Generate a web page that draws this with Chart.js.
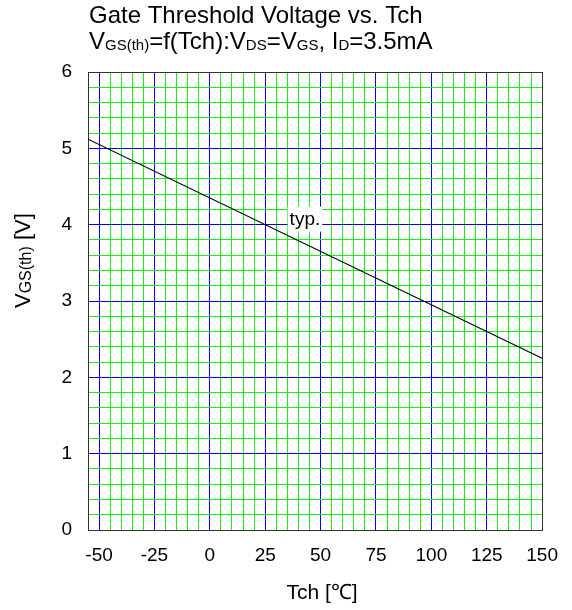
<!DOCTYPE html>
<html>
<head>
<meta charset="utf-8">
<script src="https://cdn.jsdelivr.net/npm/chart.js@4/dist/chart.umd.min.js"></script>
<style>
  body { margin: 0; background: #fff; }
</style>
</head>
<body>
<canvas id="vthChart" width="572" height="610"></canvas>
<script>
'use strict';

// Curve data
const tchValues = [-55, 150];
const vthValues = [5.12, 2.25];

// Tick labels
const xTicks = [-50, -25, 0, 25, 50, 75, 100, 125, 150];
const yTicks = [0, 1, 2, 3, 4, 5, 6];

// Curve note
const noteText = 'typ.';
const noteAt = [36, 4];

// Title pieces: [text, isSubscript]
const titleLine1 = [['Gate Threshold Voltage vs. Tch', false]];
const titleLine2 = [
  ['V', false], ['GS(th)', true], ['=f(Tch):V', false], ['DS', true],
  ['=V', false], ['GS', true], [', I', false], ['D', true], ['=3.5mA', false],
];
const yTitle = [['V', false], ['GS(th)', true], [' [V]', false]];
const xTitle = 'Tch [℃]';

const FONT = '"Liberation Sans", Arial, sans-serif';
const GREEN = '#11f511';
const BLUE = '#0000ff';
const FRAME = '#333333';

Chart.defaults.font.family = FONT;
Chart.defaults.color = '#000';

function drawRich(ctx, parts, x, y, big, small) {
  for (const [txt, sub] of parts) {
    ctx.font = (sub ? small : big) + 'px ' + FONT;
    ctx.fillText(txt, x, y + (sub ? 1 : 0));
    x += ctx.measureText(txt).width;
  }
}

function isMajor(v, step) {
  const r = v / step;
  return Math.abs(r - Math.round(r)) < 1e-6;
}

const textPlugin = {
  id: 'textPlugin',
  afterDatasetsDraw(chart) {
    const ctx = chart.ctx;
    const xs = chart.scales.x;
    const ys = chart.scales.y;
    ctx.save();
    ctx.fillStyle = '#000';
    ctx.textAlign = 'left';
    ctx.textBaseline = 'alphabetic';

    // note on the curve, white box behind it
    const nx = xs.getPixelForValue(noteAt[0]);
    const ny = ys.getPixelForValue(noteAt[1]);
    ctx.font = '19px ' + FONT;
    const w = ctx.measureText(noteText).width;
    ctx.fillStyle = '#fff';
    ctx.fillRect(nx - 2, ny - 18, w + 4, 25);
    ctx.fillStyle = '#000';
    ctx.fillText(noteText, nx, ny);

    // titles
    drawRich(ctx, titleLine1, 89, 23, 24, 15);
    drawRich(ctx, titleLine2, 89, 49, 24, 15);

    // x axis title
    ctx.font = '21px ' + FONT;
    ctx.textAlign = 'center';
    ctx.fillText(xTitle, 322, 599);
    ctx.textAlign = 'left';

    // y axis title (rotated)
    ctx.translate(30, 308);
    ctx.rotate(-Math.PI / 2);
    drawRich(ctx, yTitle, 0, 0, 22, 16);
    ctx.restore();
  }
};

const vthChart = new Chart(document.getElementById('vthChart'), {
  type: 'scatter',
  data: {
    datasets: [{
      data: tchValues.map((t, i) => ({ x: t, y: vthValues[i] })),
      showLine: true,
      borderColor: '#000',
      borderWidth: 1.2,
      pointRadius: 0,
    }],
  },
  options: {
    responsive: false,
    animation: false,
    layout: { padding: { top: 72, right: 25, left: 0, bottom: 0 } },
    plugins: { legend: { display: false }, tooltip: { enabled: false } },
    scales: {
      x: {
        type: 'linear',
        min: -55,
        max: 150,
        afterFit: (s) => { s.height = 80; },
        border: { color: FRAME, width: 1 },
        grid: {
          drawTicks: false,
          color: (c) => {
            const v = c.tick.value;
            if (v === 150 || v === -55) return FRAME;
            return isMajor(v, 25) ? BLUE : GREEN;
          },
        },
        ticks: {
          stepSize: 5,
          autoSkip: false,
          maxRotation: 0,
          padding: 14,
          font: { size: 19 },
          callback: (v) => (xTicks.includes(v) ? String(v) : ''),
        },
      },
      y: {
        type: 'linear',
        min: 0,
        max: 6,
        afterFit: (s) => { s.width = 88; },
        border: { color: FRAME, width: 1 },
        grid: {
          drawTicks: false,
          color: (c) => {
            const v = c.tick.value;
            if (Math.abs(v - 6) < 1e-6 || Math.abs(v) < 1e-6) return FRAME;
            return isMajor(v, 1) ? BLUE : GREEN;
          },
        },
        ticks: {
          stepSize: 0.2,
          autoSkip: false,
          padding: 16,
          font: { size: 19 },
          callback: (v) => {
            const r = Math.round(v);
            return isMajor(v, 1) && yTicks.includes(r) ? String(r) : '';
          },
        },
      },
    },
  },
  plugins: [textPlugin],
});
</script>
</body>
</html>
